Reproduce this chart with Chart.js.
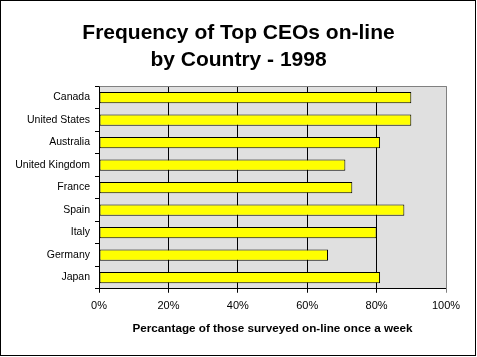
<!DOCTYPE html>
<html>
<head>
<meta charset="utf-8">
<script src="https://cdn.jsdelivr.net/npm/chart.js@4/dist/chart.umd.min.js"></script>
<style>
html,body{margin:0;padding:0;background:#fff;}
canvas{display:block;}
</style>
</head>
<body>
<canvas id="c" width="477" height="357"></canvas>
<script>
const countries = ["Canada","United States","Australia","United Kingdom","France","Spain","Italy","Germany","Japan"];
const percentOnline = [90, 90, 81, 71, 73, 88, 80, 66, 81];
const xTicks = [0, 20, 40, 60, 80, 100];
const titleLines = ["Frequency of Top CEOs on-line", "by Country - 1998"];
const xAxisTitle = "Percantage of those surveyed on-line once a week";

const FONT = "Arial, 'Liberation Sans', sans-serif";
Chart.defaults.color = '#000';
Chart.defaults.font.family = FONT;

const framePlugin = {
  id: 'frame',
  beforeDraw(chart) {
    const {ctx, chartArea: a} = chart;
    ctx.save();
    ctx.fillStyle = '#fff';
    ctx.fillRect(0, 0, chart.width, chart.height);
    ctx.fillStyle = '#E0E0E0';
    ctx.fillRect(a.left, a.top, a.right - a.left, a.bottom - a.top);
    ctx.restore();
  },
  afterDraw(chart) {
    const {ctx, chartArea: a} = chart;
    ctx.save();
    ctx.strokeStyle = '#808080';
    ctx.lineWidth = 1;
    ctx.beginPath();
    ctx.moveTo(Math.round(a.left) + 0.5, Math.round(a.top) + 0.5);
    ctx.lineTo(Math.round(a.right) + 0.5, Math.round(a.top) + 0.5);
    ctx.lineTo(Math.round(a.right) + 0.5, Math.round(a.bottom));
    ctx.stroke();
    ctx.strokeStyle = '#000';
    ctx.strokeRect(0.5, 0.5, chart.width - 2, chart.height - 2);
    ctx.restore();
  }
};

new Chart(document.getElementById('c'), {
  type: 'bar',
  data: {
    labels: countries,
    datasets: [{
      data: percentOnline,
      backgroundColor: '#FFFF00',
      borderColor: '#000',
      borderWidth: 1,
      borderSkipped: false,
      barPercentage: 0.5,
      categoryPercentage: 1
    }]
  },
  options: {
    indexAxis: 'y',
    responsive: false,
    animation: false,
    layout: { padding: { left: 0, right: 0, top: 0, bottom: 21 } },
    plugins: {
      legend: { display: false },
      tooltip: { enabled: false },
      title: {
        display: true,
        text: titleLines,
        color: '#000',
        font: { family: FONT, size: 21, weight: 'bold', lineHeight: 1.27 },
        padding: { top: 20, bottom: 13 }
      }
    },
    scales: {
      x: {
        min: 0, max: 100,
        afterBuildTicks(scale) { scale.ticks = xTicks.map(v => ({ value: v })); },
        ticks: {
          callback: v => v + '%',
          font: { family: FONT, size: 11 },
          color: '#000',
          padding: 7,
          maxRotation: 0
        },
        grid: {
          color: ctx => (ctx.tick && ctx.tick.value === 100) ? '#808080' : '#000',
          lineWidth: 1,
          tickLength: 4,
          drawTicks: true
        },
        border: { display: true, color: '#000' },
        title: {
          display: true,
          text: xAxisTitle,
          color: '#000',
          font: { family: FONT, size: 11.7, weight: 'bold' },
          padding: { top: 2, bottom: 0 }
        }
      },
      y: {
        afterFit(scale) { scale.width = 99; },
        ticks: {
          font: { family: FONT, size: 10.5 },
          color: '#000',
          padding: 5
        },
        grid: {
          offset: true,
          drawOnChartArea: false,
          drawTicks: true,
          tickLength: 4,
          color: '#000'
        },
        border: { display: true, color: '#000' }
      },
      spacer: {
        type: 'linear',
        axis: 'y',
        position: 'right',
        display: true,
        afterFit(scale) { scale.width = 31; },
        ticks: { display: false },
        grid: { display: false, drawTicks: false },
        border: { display: false }
      }
    }
  },
  plugins: [framePlugin]
});
</script>
</body>
</html>
